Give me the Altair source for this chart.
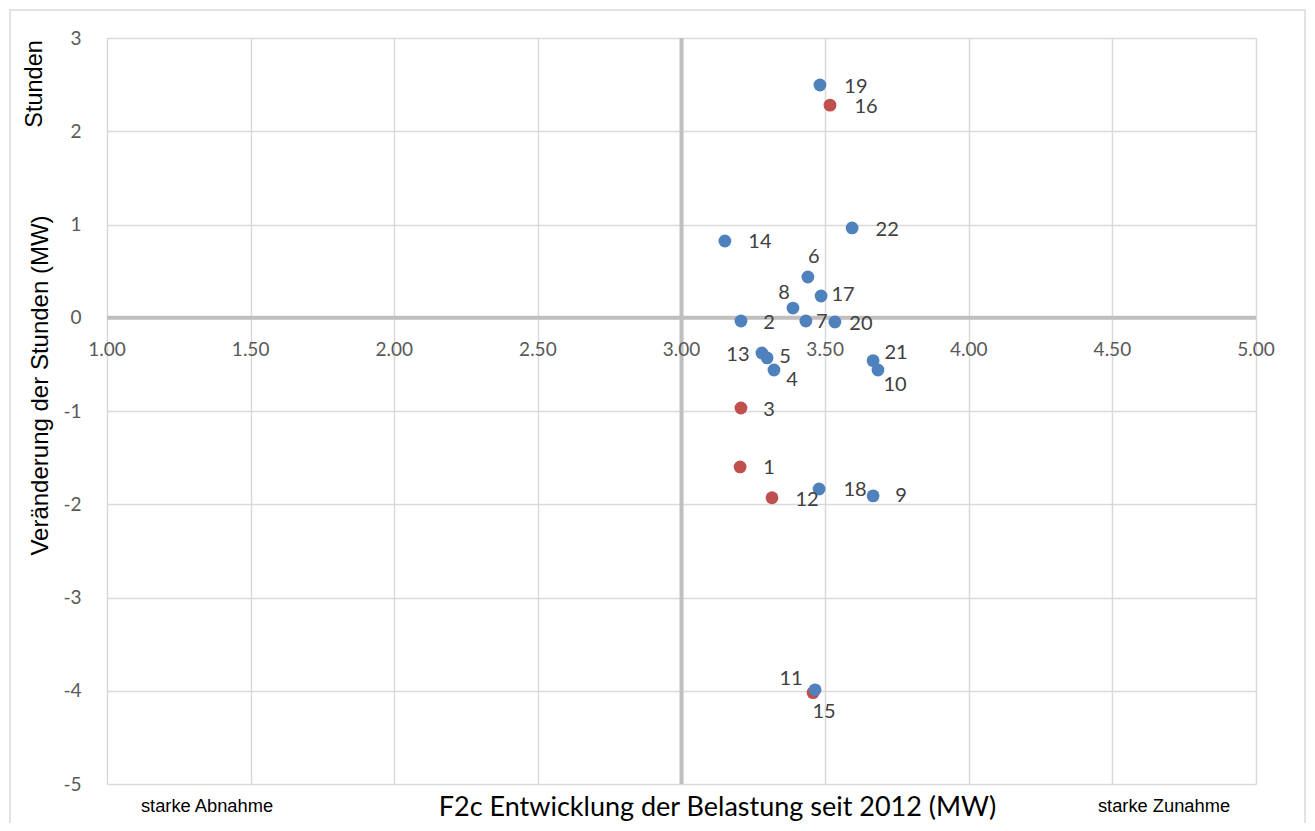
import altair as alt
import pandas as pd

# ---- data ----
ids = [str(i) for i in range(1, 23)]
xs = [3.204, 3.207, 3.207, 3.322, 3.298, 3.440, 3.433, 3.388, 3.667, 3.684, 3.465,
      3.315, 3.280, 3.151, 3.458, 3.517, 3.486, 3.479, 3.482, 3.534, 3.667, 3.594]
ys = [-1.60, -0.035, -0.968, -0.56, -0.43, 0.437, -0.035, 0.104, -1.91, -0.56, -3.99,
      -1.93, -0.378, 0.823, -4.02, 2.28, 0.233, -1.836, 2.496, -0.046, -0.46, 0.963]
series = ["rot", "blau", "rot", "blau", "blau", "blau", "blau", "blau", "blau", "blau", "blau",
          "rot", "blau", "blau", "rot", "rot", "blau", "blau", "blau", "blau", "blau", "blau"]

# label placement (pixel offsets of each data label from its point)
lab_dx = [29, 28, 28, 18, 18, 6, 16, -9, 28, 17, -24, 35, -24, 35, 11, 36, 22, 36, 36, 26, 23, 35]
lab_dy = [1, 2, 2, 10, -1, -20, 1, -15, 0, 15, -11, 2, 2, 1, 19, 2, -1, 1, 2, 2, -8, 2]

x_ticks = [1.0, 1.5, 2.0, 2.5, 3.0, 3.5, 4.0, 4.5, 5.0]
x_tick_labels = ["1.00", "1.50", "2.00", "2.50", "3.00", "3.50", "4.00", "4.50", "5.00"]
y_ticks = [-5, -4, -3, -2, -1, 0, 1, 2, 3]
quad_x = [3.0]
quad_y = [0.0]

W, H = 1149, 746
xdom = [1, 5]
ydom = [-5, 3]

df = pd.DataFrame({"id": ids, "x": xs, "y": ys, "series": series,
                   "ldx": lab_dx, "ldy": lab_dy})
df["ord"] = (df["series"] == "blau").astype(int)
df = df.sort_values(["ord"], kind="stable").reset_index(drop=True)

ticks_df = pd.DataFrame({"v": x_ticks, "lab": x_tick_labels})
one = pd.DataFrame({"a": [0]})

xscale = alt.Scale(domain=xdom, nice=False, zero=False)
yscale = alt.Scale(domain=ydom, nice=False, zero=False)

x_axis = alt.Axis(values=x_ticks, labels=False, ticks=False, domain=False, grid=True,
                  gridColor="#d9d9d9", gridWidth=1.5,
                  title="F2c Entwicklung der Belastung seit 2012 (MW)",
                  titleFont="Lato", titleFontSize=27, titleFontWeight="normal",
                  titleColor="#000000", titleX=610, titleY=23, titleAlign="center",
                  titleBaseline="middle")
y_axis = alt.Axis(values=y_ticks, labelExpr="'' + datum.value", ticks=False, domain=False,
                  grid=True, gridColor="#d9d9d9", gridWidth=1.5,
                  labelFont="Lato", labelFontSize=19, labelColor="#595959", labelPadding=26,
                  title="Veränderung der Stunden (MW)",
                  titleFont="Liberation Sans", titleFontSize=24, titleFontWeight="normal",
                  titleColor="#000000", titleX=-67, titleY=347, titleAngle=270,
                  titleAlign="center", titleBaseline="middle")


def X(f):
    return alt.X(f, scale=xscale, axis=x_axis)


def Y(f):
    return alt.Y(f, scale=yscale, axis=y_axis)


border = alt.Chart(one).mark_rect(fill="transparent", stroke="#d9d9d9", strokeWidth=1.5).encode(
    x=alt.value(-97), x2=alt.value(1198), y=alt.value(-28), y2=alt.value(830))

vrule = alt.Chart(pd.DataFrame({"qx": quad_x})).mark_rule(color="#bfbfbf", strokeWidth=4).encode(
    x=X("qx:Q"))
hrule = alt.Chart(pd.DataFrame({"qy": quad_y})).mark_rule(color="#bfbfbf", strokeWidth=4).encode(
    y=Y("qy:Q"))

points = alt.Chart(df).mark_circle(size=165, opacity=1).encode(
    x=X("x:Q"), y=Y("y:Q"),
    color=alt.Color("series:N", scale=alt.Scale(domain=["rot", "blau"],
                                                range=["#C0504D", "#4F81BD"]), legend=None),
    order=alt.Order("ord:Q"))

labels = alt.Chart(df).transform_calculate(
    lx=f"datum.x + datum.ldx * {4 / W}",
    ly=f"datum.y - datum.ldy * {8 / H}",
).mark_text(font="Lato", fontSize=20, color="#404040", align="center", baseline="middle").encode(
    x=X("lx:Q"), y=Y("ly:Q"), text="id:N")

tick_labels = alt.Chart(ticks_df).mark_text(
    font="Lato", fontSize=19, color="#595959", align="center", baseline="middle", dy=32).encode(
    x=X("v:Q"), y=alt.datum(0), text="lab:N")

stunden = alt.Chart(one).mark_text(font="Liberation Sans", fontSize=23.5, angle=270,
                                   align="center", baseline="middle", color="#000000").encode(
    x=alt.value(-72), y=alt.value(46), text=alt.value("Stunden"))

abnahme = alt.Chart(one).mark_text(font="Liberation Sans", fontSize=18.3, align="center",
                                   baseline="middle", color="#000000").encode(
    x=alt.value(100), y=alt.value(769), text=alt.value("starke Abnahme"))

zunahme = alt.Chart(one).mark_text(font="Liberation Sans", fontSize=18.3, align="center",
                                   baseline="middle", color="#000000").encode(
    x=alt.value(1057), y=alt.value(769), text=alt.value("starke Zunahme"))

chart = alt.layer(border, vrule, hrule, points, labels, tick_labels, stunden, abnahme, zunahme).properties(
    width=W, height=H,
    padding={"left": 99, "top": 30, "right": 51, "bottom": 39},
    autosize=alt.AutoSizeParams(type="none"),
    background="white",
).configure_view(stroke=None)

chart.save("out.html", embed_options={"renderer": "svg", "actions": False})
